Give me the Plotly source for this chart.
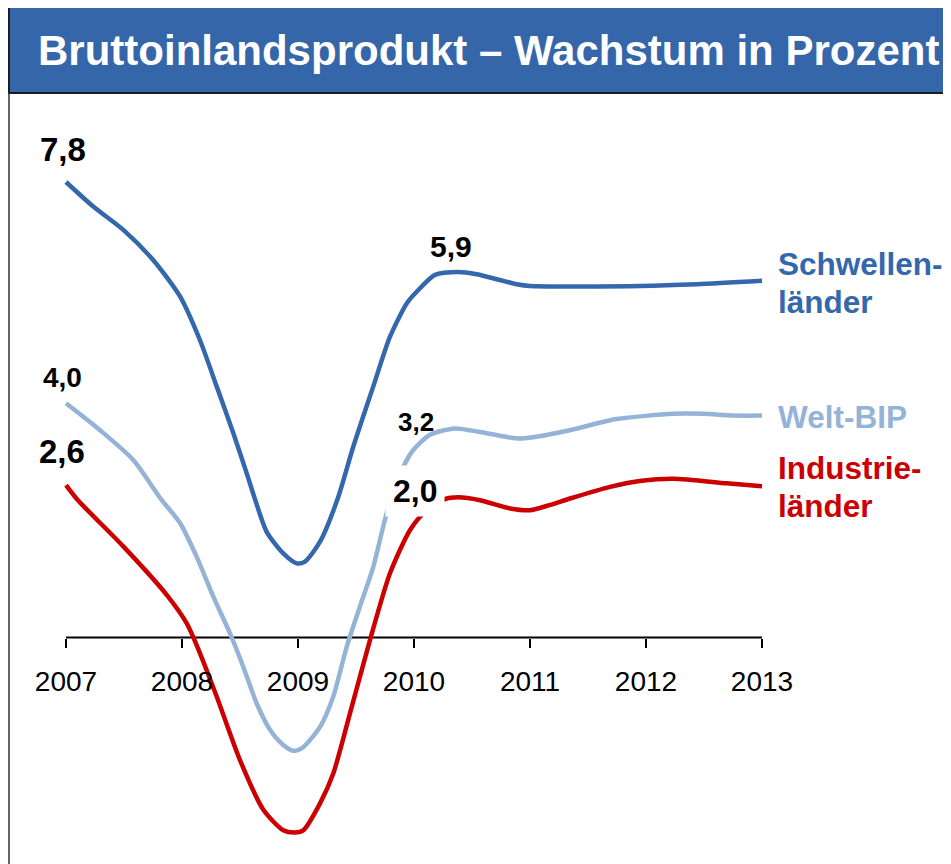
import plotly.graph_objects as go

# ---------------- data ----------------
years = [2007, 2008, 2009, 2010, 2011, 2012, 2013]
tick_labels = ["2007", "2008", "2009", "2010", "2011", "2012", "2013"]

schwellen_x = [2007.000, 2007.235, 2007.494, 2007.753, 2007.983, 2008.155, 2008.299,
               2008.442, 2008.558, 2008.629, 2008.730, 2008.873, 2008.989, 2009.060,
               2009.190, 2009.341, 2009.477, 2009.649, 2009.793, 2009.937, 2010.023,
               2010.181, 2010.382, 2010.541, 2010.885, 2011.000, 2011.948, 2012.437, 2013.000]
schwellen_y = [7.80, 7.38, 6.98, 6.46, 5.84, 5.09, 4.30,
               3.50, 2.81, 2.37, 1.81, 1.44, 1.27, 1.30,
               1.64, 2.37, 3.27, 4.30, 5.15, 5.72, 5.92,
               6.21, 6.26, 6.22, 6.05, 6.02, 6.02, 6.05, 6.11]

welt_x = [2007.000, 2007.293, 2007.580, 2007.819, 2007.983, 2008.127, 2008.270,
          2008.414, 2008.528, 2008.644, 2008.759, 2008.873, 2008.959, 2009.032,
          2009.190, 2009.304, 2009.420, 2009.534, 2009.649, 2009.765, 2009.908,
          2009.994, 2010.138, 2010.353, 2010.569, 2010.885, 2011.026, 2011.345,
          2011.747, 2012.236, 2012.494, 2012.753, 2013.000]
welt_y = [4.01, 3.55, 3.04, 2.37, 1.96, 1.38, 0.70,
          0.07, -0.50, -1.13, -1.58, -1.84, -1.94, -1.90,
          -1.53, -1.01, -0.16, 0.53, 1.21, 2.13, 2.92,
          3.21, 3.47, 3.58, 3.52, 3.41, 3.43, 3.55,
          3.74, 3.83, 3.83, 3.80, 3.80]

industrie_x = [2007.000, 2007.103, 2007.494, 2007.868, 2008.041, 2008.155, 2008.299,
               2008.500, 2008.701, 2008.873, 2008.974, 2009.046, 2009.190, 2009.304,
               2009.448, 2009.621, 2009.793, 2009.966, 2010.095, 2010.267, 2010.382,
               2010.569, 2010.828, 2011.000, 2011.172, 2011.345, 2011.690, 2011.948,
               2012.236, 2012.695, 2013.000]
industrie_y = [2.61, 2.35, 1.56, 0.73, 0.24, -0.27, -1.01,
               -2.10, -2.95, -3.30, -3.34, -3.30, -2.84, -2.33,
               -1.30, -0.04, 1.10, 1.84, 2.15, 2.37, 2.40,
               2.35, 2.21, 2.18, 2.27, 2.38, 2.58, 2.68,
               2.72, 2.64, 2.59]

start_labels = [7.8, 4.0, 2.6]        # Schwellenländer, Welt-BIP, Industrieländer 2007
recovery_labels = [5.9, 3.2, 2.0]     # Schwellenländer, Welt-BIP, Industrieländer 2010

# ---------------- styling ----------------
PAGE_OFF = 8                 # body margin of the html page
W, H = 951 - PAGE_OFF, 864 - PAGE_OFF
DARK_BLUE = "#3467AC"
LIGHT_BLUE = "#95B3D7"
RED = "#CC0000"
TITLE_BLUE = "#3466A9"
FONT = "Liberation Sans, Arial, Helvetica, sans-serif"


def fmt(v):
    return f"{v:.1f}".replace(".", ",")


def px_x(px):   # page pixel -> paper x
    return (px - PAGE_OFF) / W


def px_y(py):   # page pixel -> paper y
    return 1 - (py - PAGE_OFF) / H


fig = go.Figure()
for xs, ys, col in [(industrie_x, industrie_y, RED),
                    (welt_x, welt_y, LIGHT_BLUE),
                    (schwellen_x, schwellen_y, DARK_BLUE)]:
    fig.add_trace(go.Scatter(
        x=xs, y=ys, mode="lines",
        line=dict(color=col, width=4.5, shape="spline", smoothing=0.7),
        hoverinfo="skip", showlegend=False,
    ))

annotations = []
# title
annotations.append(dict(
    text="<b>Bruttoinlandsprodukt – Wachstum in Prozent</b>",
    xref="paper", yref="paper", x=px_x(36), y=px_y(51),
    xanchor="left", yanchor="middle", showarrow=False,
    font=dict(family=FONT, size=42, color="white"),
))

# start labels (2007)
start_pos = [(2006.970, 8.35, 33), (2006.974, 4.46, 28), (2006.966, 3.18, 33)]
for v, (x, y, s) in zip(start_labels, start_pos):
    annotations.append(dict(
        text=f"<b>{fmt(v)}</b>", x=x, y=y, xref="x", yref="y",
        xanchor="center", yanchor="middle", showarrow=False,
        font=dict(family=FONT, size=s, color="black"),
    ))

# recovery labels (2010)
rec_pos = [(2010.323, 6.70, 30, None), (2010.017, 3.69, 26, None), (2010.009, 2.51, 32, "white")]
for v, (x, y, s, bg) in zip(recovery_labels, rec_pos):
    a = dict(
        text=f"<b>{fmt(v)}</b>", x=x, y=y, xref="x", yref="y",
        xanchor="center", yanchor="middle", showarrow=False,
        font=dict(family=FONT, size=s, color="black"),
    )
    if bg:
        a.update(bgcolor=bg, borderpad=7)
    annotations.append(a)

# series names on the right
name_lines = [("Schwellen-", 264, DARK_BLUE), ("länder", 301.5, DARK_BLUE),
              ("Welt-BIP", 416.7, LIGHT_BLUE),
              ("Industrie-", 467.5, RED), ("länder", 506, RED)]
for t, py, col in name_lines:
    annotations.append(dict(
        text=f"<b>{t}</b>", xref="paper", yref="paper",
        x=px_x(776), y=px_y(py), xanchor="left", yanchor="middle",
        showarrow=False, font=dict(family=FONT, size=31.5, color=col),
    ))

shapes = [
    # title bar
    dict(type="rect", xref="paper", yref="paper",
         x0=px_x(9), x1=1.05, y0=px_y(93), y1=px_y(7),
         fillcolor=TITLE_BLUE, line=dict(color="#1c1c1c", width=2), layer="below"),
    # left frame line
    dict(type="line", xref="paper", yref="paper",
         x0=px_x(9), x1=px_x(9), y0=px_y(93), y1=-0.05,
         line=dict(color="#333333", width=1.5), layer="below"),
    # x axis line from first to last year at zero
    dict(type="line", xref="x", yref="y",
         x0=years[0], x1=years[-1], y0=0, y1=0,
         line=dict(color="black", width=2), layer="below"),
]

PX_PER_YEAR = 116.0
PX_PER_UNIT = 58.4
X0_PX, ZERO_PX = 66.0, 637.5
x_lo, x_hi = 2006.9, 2013.1
y_top = (ZERO_PX - 100) / PX_PER_UNIT
y_bot = (ZERO_PX - 864) / PX_PER_UNIT

fig.update_layout(
    width=W, height=H,
    margin=dict(l=0, r=0, t=0, b=0, pad=0, autoexpand=False),
    paper_bgcolor="white", plot_bgcolor="white",
    font=dict(family=FONT, color="black"),
    xaxis=dict(
        domain=[px_x(X0_PX + (x_lo - 2007) * PX_PER_YEAR),
                px_x(X0_PX + (x_hi - 2007) * PX_PER_YEAR)],
        range=[x_lo, x_hi],
        anchor="free", position=px_y(ZERO_PX),
        tickmode="array", tickvals=years, ticktext=tick_labels,
        ticks="outside", ticklen=9, tickwidth=2, tickcolor="black",
        tickfont=dict(family=FONT, size=28, color="black"),
        ticklabelstandoff=10, automargin=False,
        showline=False, showgrid=False, zeroline=False,
    ),
    yaxis=dict(
        domain=[0, px_y(100)], range=[y_bot, y_top],
        visible=False, showgrid=False, zeroline=False, automargin=False,
    ),
    annotations=annotations,
    shapes=shapes,
)

fig.write_html("out.html")
